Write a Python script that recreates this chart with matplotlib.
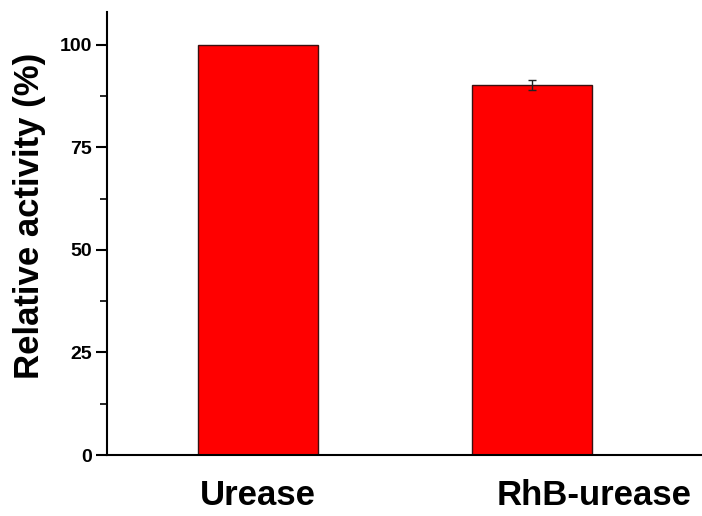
import matplotlib
matplotlib.use('Agg')
import matplotlib.pyplot as plt
import matplotlib.transforms as mtransforms
from matplotlib.ticker import MultipleLocator

# relative activity of free vs. labelled enzyme
samples = ['Urease', 'RhB-urease']
activity = [100.0, 90.2]
activity_err = [0.0, 1.3]

plt.rcParams['font.family'] = ['Liberation Sans', 'DejaVu Sans']
plt.rcParams['font.weight'] = 'bold'

fig = plt.figure(figsize=(7.02, 5.16), dpi=100)
ax = fig.add_axes([107 / 702, 61 / 516, 1 - 107 / 702, 443 / 516])

xpos = list(range(len(samples)))
ax.bar(xpos, activity, width=0.44, color='#ff0000', edgecolor='#3a1010',
       linewidth=1.0, zorder=2)
ax.errorbar(xpos[1:], activity[1:], yerr=activity_err[1:], fmt='none',
            ecolor='#222222', elinewidth=1.0, capsize=3, capthick=1.0, zorder=3)

ax.set_xlim(-0.551, 1.62)
ax.set_ylim(0, 108)

ax.spines['top'].set_visible(False)
ax.spines['right'].set_visible(False)
for s in ['left', 'bottom']:
    ax.spines[s].set_linewidth(1.5)

ax.yaxis.set_major_locator(MultipleLocator(25))
ax.yaxis.set_minor_locator(MultipleLocator(12.5))
ax.tick_params(axis='y', which='major', direction='out', length=8, width=1.5,
               labelsize=14, pad=3)
ax.tick_params(axis='y', which='minor', direction='out', length=5, width=1.2)

ax.set_xticks(xpos)
ax.set_xticklabels(samples, fontsize=25, fontweight='bold')
ax.tick_params(axis='x', length=0, pad=17)
# the second category label sits further right than its bar
shift = mtransforms.ScaledTranslation(62 / 100, 0, fig.dpi_scale_trans)
lbl = ax.get_xticklabels()[1]
lbl.set_transform(lbl.get_transform() + shift)

ax.set_ylabel('Relative activity (%)', fontsize=25, fontweight='bold')
ax.yaxis.set_label_coords(-0.103, 0.54)

fig.savefig('out.png', dpi=100)
